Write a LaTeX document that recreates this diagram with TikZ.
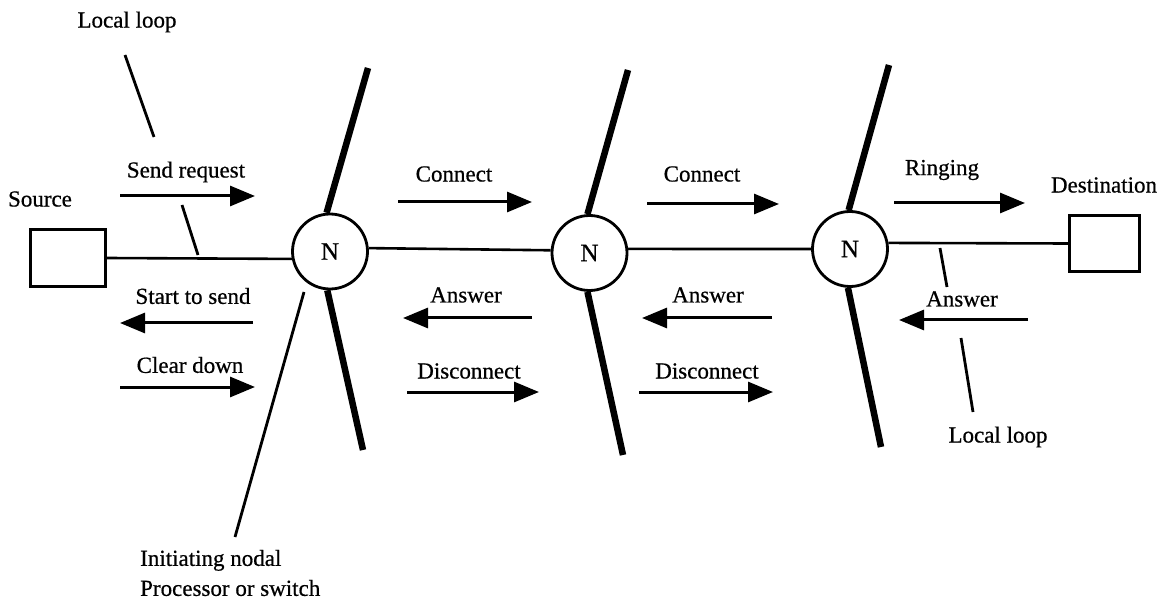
\documentclass[tikz,border=0pt]{standalone}
\usepackage{fontspec}
\setmainfont{Liberation Serif}[FakeBold=0.6]
\usetikzlibrary{arrows.meta}
\begin{document}
\begin{tikzpicture}[x=1pt,y=-1pt,
  lbl/.style={font=\fontsize{23}{30}\selectfont, inner sep=0pt},
  nodal/.style={draw, circle, line width=2.8pt, minimum size=75pt, inner sep=0pt,
                font=\fontsize{25}{30}\selectfont},
  term/.style={draw, rectangle, line width=2.8pt, inner sep=0pt},
  link/.style={line width=2.6pt},
  sep/.style={line width=6.5pt},
  ptr/.style={line width=2.8pt},
  msg/.style={line width=3pt, -{Triangle[length=25pt,width=20pt]}}
]
\useasboundingbox (0,0) rectangle (1171,604);

% terminals and nodal switches
\node[term, minimum width=75pt, minimum height=57pt] (src) at (68,258) {};
\node[term, minimum width=70pt, minimum height=56pt] (dst) at (1104.5,243.5) {};
\node[nodal] (n1) at (330,251.5) {N};
\node[nodal] (n2) at (589.5,253) {N};
\node[nodal] (n3) at (850,249) {N};

% transmission path
\draw[link] (src.east) -- (n1.191);
\draw[link] (n1.5) -- (n2.176);
\draw[link] (n2.6) -- (n3.west);
\draw[link] (n3.9) -- (dst.west);

% node boundaries
\coordinate (s1t) at (368,68);   \coordinate (s1b) at (363,450);
\coordinate (s2t) at (628,70);   \coordinate (s2b) at (623,455);
\coordinate (s3t) at (889,65);   \coordinate (s3b) at (881,447);
\draw[sep] (s1t) -- (n1.95);
\draw[sep] (n1.-94) -- (s1b);
\draw[sep] (s2t) -- (n2.93);
\draw[sep] (n2.-93) -- (s2b);
\draw[sep] (s3t) -- (n3.92);
\draw[sep] (n3.-93) -- (s3b);

% labels
\node[lbl] (ll1) at (127,22) {Local loop};
\node[lbl] (srcl) at (40,199) {Source};
\node[lbl] (dstl) at (1104,185) {Destination};
\node[lbl] (ll2) at (998,437) {Local loop};
\node[lbl, align=left, anchor=west] (init) at (140,573)
  {Initiating nodal\\Processor or switch};

% pointer lines
\coordinate (p1a) at (125,55);  \coordinate (p1b) at (154,137);
\coordinate (p2a) at (182,205); \coordinate (p2b) at (198,255);
\coordinate (p3a) at (304,292); \coordinate (p3b) at (235,537);
\coordinate (p4a) at (940,248); \coordinate (p4b) at (947,287);
\coordinate (p5a) at (961,338); \coordinate (p5b) at (973,412);
\draw[ptr] (p1a) -- (p1b);
\draw[ptr] (p2a) -- (p2b);
\draw[ptr] (p3a) -- (p3b);
\draw[ptr] (p4a) -- (p4b);
\draw[ptr] (p5a) -- (p5b);

% signalling messages
\node[lbl] (m1) at (186,172) {Send request};
\coordinate (a1s) at (120,196); \coordinate (a1e) at (255,196);
\draw[msg] (a1s) -- (a1e);

\node[lbl] (m2) at (193,296) {Start to send};
\coordinate (a2s) at (253,323); \coordinate (a2e) at (120,323);
\draw[msg] (a2s) -- (a2e);

\node[lbl] (m3) at (190,365) {Clear down};
\coordinate (a3s) at (120,387); \coordinate (a3e) at (255,387);
\draw[msg] (a3s) -- (a3e);

\node[lbl] (m4) at (454,174) {Connect};
\coordinate (a4s) at (398,202); \coordinate (a4e) at (532,202);
\draw[msg] (a4s) -- (a4e);

\node[lbl] (m5) at (702,174) {Connect};
\coordinate (a5s) at (647,204); \coordinate (a5e) at (779,204);
\draw[msg] (a5s) -- (a5e);

\node[lbl] (m6) at (942,170) {Ringing};
\coordinate (a6s) at (894,203); \coordinate (a6e) at (1025,203);
\draw[msg] (a6s) -- (a6e);

\node[lbl] (m7) at (466,295) {Answer};
\coordinate (a7s) at (532,318); \coordinate (a7e) at (403,318);
\draw[msg] (a7s) -- (a7e);

\node[lbl] (m8) at (708,295) {Answer};
\coordinate (a8s) at (772,318); \coordinate (a8e) at (642,318);
\draw[msg] (a8s) -- (a8e);

\node[lbl] (m9) at (962,299) {Answer};
\coordinate (a9s) at (1028,320); \coordinate (a9e) at (899,320);
\draw[msg] (a9s) -- (a9e);

\node[lbl] (m10) at (469,371) {Disconnect};
\coordinate (a10s) at (407,392); \coordinate (a10e) at (539,392);
\draw[msg] (a10s) -- (a10e);

\node[lbl] (m11) at (707,371) {Disconnect};
\coordinate (a11s) at (639,392); \coordinate (a11e) at (773,392);
\draw[msg] (a11s) -- (a11e);

\end{tikzpicture}
\end{document}
